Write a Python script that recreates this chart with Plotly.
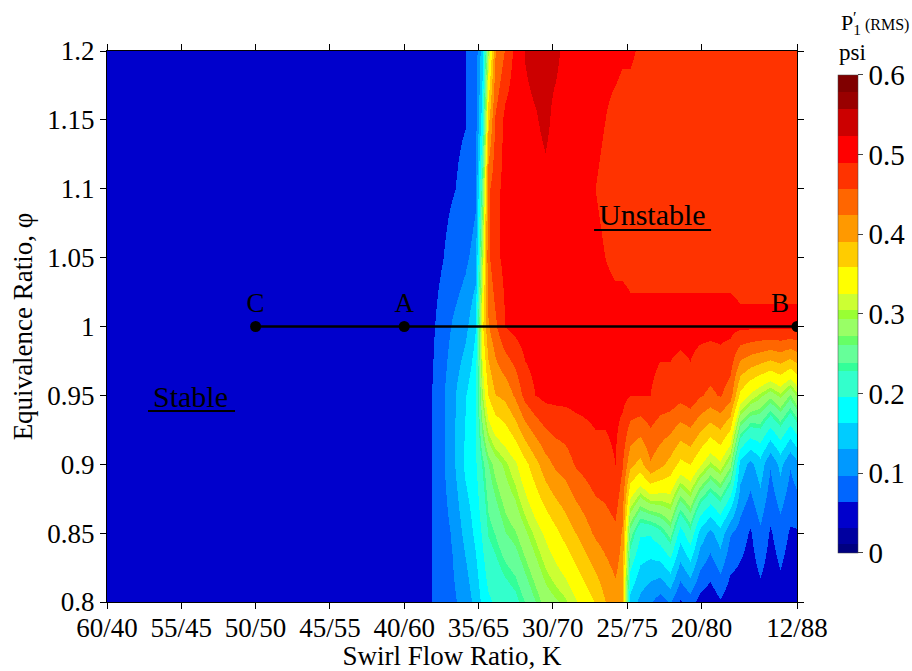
import numpy as np
import plotly.graph_objects as go

# ---- axis ticks ----
k_tick_text = ["60/40", "55/45", "50/50", "45/55", "40/60", "35/65", "30/70", "25/75", "20/80", "12/88"]
k_tick_pos = [0, 1, 2, 3, 4, 5, 6, 7, 8, 9.286]
phi_ticks = [0.8, 0.85, 0.9, 0.95, 1.0, 1.05, 1.1, 1.15, 1.2]
cbar_ticks = [0, 0.1, 0.2, 0.3, 0.4, 0.5, 0.6]

# ---- measurement grid ----
phi_rows = [0.8, 0.85, 0.9, 0.95, 1.0, 1.05, 1.1, 1.15, 1.2]
k_cols = [0.00, 2.87, 4.21, 4.35, 4.48, 4.64, 4.82, 4.95, 5.05, 5.13, 5.22, 5.36, 5.49, 5.63,
          5.76, 5.90, 6.03, 6.16, 6.30, 6.43, 6.57, 6.70, 6.84, 6.93, 7.04, 7.17, 7.31, 7.44,
          7.58, 7.71, 7.85, 7.98, 8.12, 8.25, 8.38, 8.52, 8.65, 8.79, 8.92, 9.06, 9.19, 9.29]
# P'1 RMS (psi) per column, from phi=0.8 (first) to phi=1.2 (last)
p_rms_cols = [
    [0.045, 0.045, 0.045, 0.045, 0.045, 0.045, 0.045, 0.045, 0.045],
    [0.045, 0.045, 0.045, 0.045, 0.045, 0.045, 0.045, 0.045, 0.045],
    [0.045, 0.045, 0.045, 0.045, 0.045, 0.045, 0.045, 0.045, 0.045],
    [0.060, 0.060, 0.060, 0.060, 0.055, 0.050, 0.050, 0.050, 0.050],
    [0.080, 0.080, 0.085, 0.085, 0.075, 0.060, 0.055, 0.055, 0.055],
    [0.090, 0.100, 0.120, 0.120, 0.100, 0.075, 0.062, 0.060, 0.060],
    [0.110, 0.140, 0.170, 0.160, 0.120, 0.090, 0.070, 0.063, 0.063],
    [0.140, 0.170, 0.190, 0.190, 0.160, 0.110, 0.090, 0.080, 0.075],
    [0.170, 0.200, 0.230, 0.300, 0.350, 0.300, 0.250, 0.180, 0.150],
    [0.190, 0.230, 0.260, 0.360, 0.420, 0.450, 0.450, 0.380, 0.300],
    [0.200, 0.240, 0.280, 0.390, 0.450, 0.480, 0.480, 0.460, 0.420],
    [0.210, 0.260, 0.300, 0.400, 0.490, 0.500, 0.500, 0.500, 0.460],
    [0.220, 0.270, 0.320, 0.430, 0.500, 0.500, 0.510, 0.510, 0.500],
    [0.240, 0.290, 0.350, 0.470, 0.510, 0.510, 0.510, 0.515, 0.525],
    [0.260, 0.310, 0.380, 0.490, 0.510, 0.510, 0.510, 0.520, 0.535],
    [0.280, 0.330, 0.410, 0.500, 0.510, 0.510, 0.515, 0.530, 0.530],
    [0.290, 0.350, 0.430, 0.500, 0.510, 0.510, 0.510, 0.515, 0.530],
    [0.300, 0.370, 0.440, 0.500, 0.510, 0.510, 0.510, 0.510, 0.515],
    [0.320, 0.390, 0.460, 0.500, 0.510, 0.510, 0.510, 0.510, 0.510],
    [0.340, 0.410, 0.470, 0.500, 0.510, 0.510, 0.500, 0.510, 0.510],
    [0.360, 0.430, 0.480, 0.500, 0.510, 0.500, 0.490, 0.500, 0.510],
    [0.390, 0.440, 0.480, 0.500, 0.510, 0.490, 0.480, 0.490, 0.500],
    [0.410, 0.450, 0.490, 0.500, 0.510, 0.480, 0.475, 0.480, 0.500],
    [0.400, 0.420, 0.460, 0.500, 0.510, 0.480, 0.475, 0.475, 0.495],
    [0.150, 0.250, 0.400, 0.490, 0.500, 0.480, 0.475, 0.475, 0.495],
    [0.120, 0.200, 0.380, 0.490, 0.500, 0.480, 0.475, 0.475, 0.485],
    [0.100, 0.200, 0.420, 0.490, 0.500, 0.480, 0.475, 0.475, 0.475],
    [0.080, 0.220, 0.400, 0.480, 0.500, 0.480, 0.475, 0.475, 0.475],
    [0.100, 0.250, 0.380, 0.480, 0.500, 0.480, 0.475, 0.475, 0.475],
    [0.060, 0.180, 0.350, 0.470, 0.500, 0.480, 0.475, 0.475, 0.475],
    [0.080, 0.220, 0.360, 0.480, 0.500, 0.480, 0.475, 0.475, 0.475],
    [0.050, 0.150, 0.330, 0.460, 0.500, 0.480, 0.475, 0.475, 0.475],
    [0.040, 0.120, 0.300, 0.450, 0.500, 0.480, 0.475, 0.475, 0.475],
    [0.060, 0.150, 0.320, 0.460, 0.500, 0.480, 0.475, 0.475, 0.475],
    [0.040, 0.100, 0.280, 0.440, 0.500, 0.480, 0.475, 0.475, 0.475],
    [0.040, 0.080, 0.150, 0.350, 0.495, 0.480, 0.475, 0.475, 0.475],
    [0.040, 0.060, 0.120, 0.320, 0.495, 0.480, 0.475, 0.475, 0.475],
    [0.050, 0.090, 0.150, 0.300, 0.495, 0.480, 0.475, 0.475, 0.475],
    [0.040, 0.060, 0.100, 0.280, 0.495, 0.480, 0.475, 0.475, 0.475],
    [0.050, 0.080, 0.140, 0.300, 0.495, 0.480, 0.475, 0.475, 0.475],
    [0.040, 0.060, 0.100, 0.270, 0.495, 0.480, 0.475, 0.475, 0.475],
    [0.040, 0.060, 0.120, 0.300, 0.495, 0.480, 0.475, 0.475, 0.475],
]

# ---- operating points ----
point_labels = ["C", "A", "B"]
point_k = [2, 4, 9.286]
point_phi = [1.0, 1.0, 1.0]

# ---- colour levels ----
band_edges = [0, 0.011, 0.031, 0.064, 0.097, 0.130, 0.163, 0.196, 0.228, 0.239, 0.261, 0.272,
              0.294, 0.305, 0.325, 0.359, 0.391, 0.424, 0.457, 0.490, 0.523, 0.557, 0.579, 0.6]
band_colors = ["#000080", "#0000A0", "#0000CC", "#0066FF", "#0099FF", "#00CCFF", "#00FFFF",
               "#33FFCC", "#33FF99", "#66FF99", "#66FF66", "#99FF66", "#99FF33", "#CCFF33",
               "#FFFF00", "#FFCC00", "#FF9900", "#FF6600", "#FF3300", "#FF0000", "#CC0000",
               "#990000", "#800000"]

zmax = band_edges[-1]
colorscale = []
for i, c in enumerate(band_colors):
    colorscale.append([band_edges[i] / zmax, c])
    colorscale.append([band_edges[i + 1] / zmax, c])

z = np.array(p_rms_cols).T

FONT = "Liberation Serif"

fig = go.Figure()
fig.add_trace(go.Heatmap(
    x=k_cols, y=phi_rows, z=z, zsmooth="best",
    zmin=0, zmax=zmax, colorscale=colorscale,
    colorbar=dict(
        x=1.0594, xanchor="left", xpad=0, y=0.5227, yanchor="middle", ypad=0,
        thickness=20, lenmode="pixels", len=478,
        tickvals=cbar_ticks, ticktext=[("%g" % v) for v in cbar_ticks],
        ticks="outside", ticklen=5, tickcolor="#444",
        tickfont=dict(family=FONT, size=29, color="black"),
        outlinewidth=0.5, outlinecolor="#444",
    ),
    hoverinfo="skip",
))

fig.add_trace(go.Scatter(
    x=point_k, y=point_phi, mode="lines+markers+text",
    text=point_labels, textposition=["top center", "top center", "top left"],
    textfont=dict(family=FONT, size=27, color="black"),
    line=dict(color="black", width=2.5),
    marker=dict(color="black", size=11),
    showlegend=False,
))

annotations = [
    dict(x=7.335, y=1.081, xref="x", yref="y", text="Unstable", showarrow=False,
         font=dict(family=FONT, size=30, color="black")),
    dict(x=1.13, y=0.949, xref="x", yref="y", text="Stable", showarrow=False,
         font=dict(family=FONT, size=30, color="black")),
    dict(x=1.0623, y=1.049, xref="paper", yref="paper", xanchor="left", yanchor="middle",
         text="P<sub>1</sub><span style='font-size:16px'> (RMS)</span>", showarrow=False,
         borderpad=0, font=dict(family=FONT, size=22, color="black")),
    dict(x=1.0797, y=1.0617, xref="paper", yref="paper", xanchor="left", yanchor="middle",
         text="′", showarrow=False, borderpad=0,
         font=dict(family=FONT, size=16, color="black")),
    dict(x=1.0594, y=0.998, xref="paper", yref="paper", xanchor="left", yanchor="middle",
         text="psi", showarrow=False, borderpad=0,
         font=dict(family=FONT, size=23, color="black")),
]

shapes = [
    dict(type="line", xref="x", yref="y", x0=6.555, x1=8.13, y0=1.070, y1=1.070,
         line=dict(color="black", width=2)),
    dict(type="line", xref="x", yref="y", x0=0.552, x1=1.723, y0=0.9387, y1=0.9387,
         line=dict(color="black", width=2)),
]

fig.update_layout(
    width=912, height=671,
    margin=dict(l=107, r=115, t=51, b=69, autoexpand=False),
    paper_bgcolor="white", plot_bgcolor="white",
    font=dict(family=FONT, color="black"),
    annotations=annotations, shapes=shapes,
    showlegend=False,
)
fig.update_xaxes(
    range=[0, 9.286], tickvals=k_tick_pos, ticktext=k_tick_text,
    ticks="outside", ticklen=6, tickcolor="black", showline=True, linecolor="black",
    linewidth=1, mirror="ticks", showgrid=False, zeroline=False,
    tickfont=dict(family=FONT, size=27, color="black"), ticklabelstandoff=-4,
    title=dict(text="Swirl Flow Ratio, K", font=dict(family=FONT, size=27, color="black"), standoff=5),
    automargin=False,
)
fig.update_yaxes(
    range=[0.8, 1.2], tickvals=phi_ticks, ticktext=[("%g" % v) for v in phi_ticks],
    ticks="outside", ticklen=6, tickcolor="black", showline=True, linecolor="black",
    linewidth=1, mirror="ticks", showgrid=False, zeroline=False,
    tickfont=dict(family=FONT, size=27, color="black"),
    title=dict(text="Equivalence Ratio, φ", font=dict(family=FONT, size=27, color="black"), standoff=6),
    automargin=False,
)

fig.write_html("out.html")
